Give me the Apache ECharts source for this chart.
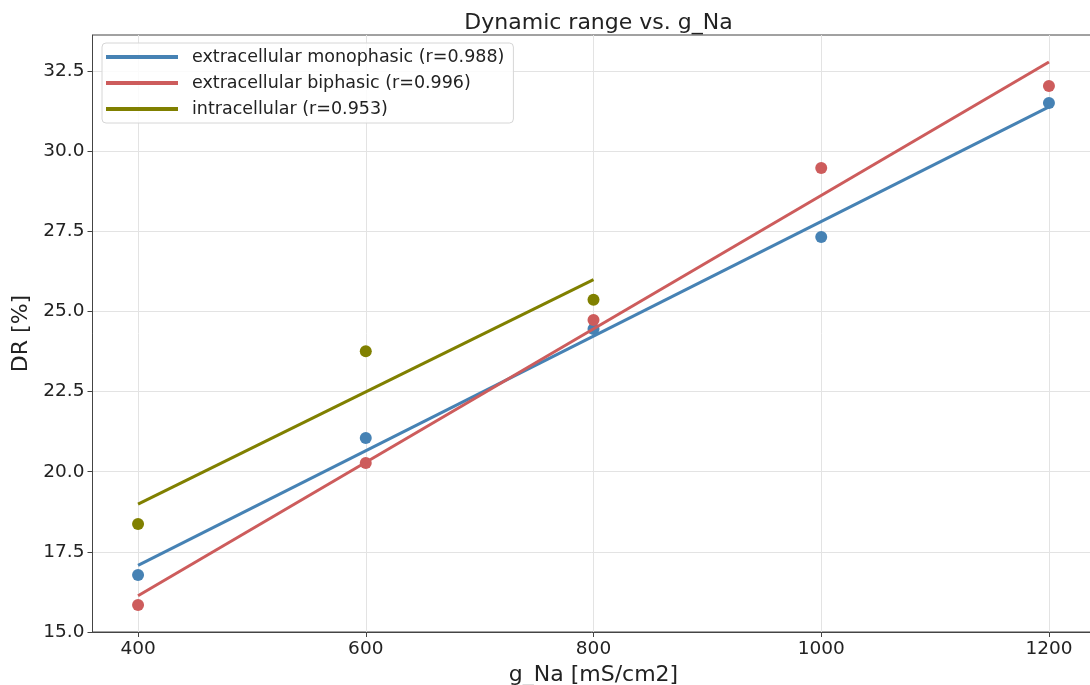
<!DOCTYPE html>
<html>
<head>
<meta charset="utf-8">
<script src="https://cdn.jsdelivr.net/npm/echarts@6/dist/echarts.min.js"></script>
<style>html,body{margin:0;padding:0;background:#fff;}#chart{width:1090px;height:685px;}</style>
</head>
<body>
<div id="chart"></div>
<script>
// Data
const gNa = [400, 600, 800, 1000, 1200];
const gNaIntra = [400, 600, 800];
const monoDR = [16.78, 21.05, 24.45, 27.32, 31.50];
const biDR = [15.84, 20.27, 24.73, 29.47, 32.03];
const intraDR = [18.37, 23.76, 25.36];
// fitted line endpoints
const monoFitX = [400, 1200];
const monoFitY = [17.08, 31.38];
const biFitX = [400, 1200];
const biFitY = [16.13, 32.78];
const intraFitX = [400, 800];
const intraFitY = [18.99, 25.99];
const seriesNames = [
  'extracellular monophasic (r=0.988)',
  'extracellular biphasic (r=0.996)',
  'intracellular (r=0.953)'
];
const xTicks = [400, 600, 800, 1000, 1200];
const yTicks = [15.0, 17.5, 20.0, 22.5, 25.0, 27.5, 30.0, 32.5];

const colors = ['#4682b4', '#cd5c5c', '#808000'];
const zip = (xs, ys) => xs.map((x, i) => [x, ys[i]]);
const font = 'DejaVu Sans';

const chart = echarts.init(document.getElementById('chart'), null, {renderer: 'canvas'});
const scatter = (data, c) => ({
  type: 'scatter', data, symbolSize: 12, silent: true,
  itemStyle: {color: c, opacity: 1}, z: 2
});
const line = (name, data, c) => ({
  type: 'line', name, data, symbol: 'none', silent: true,
  lineStyle: {color: c, width: 3}, itemStyle: {color: c}, z: 3
});

chart.setOption({
  animation: false,
  backgroundColor: '#ffffff',
  title: {
    text: 'Dynamic range vs. g_Na', left: 593.5, top: 7, textAlign: 'center',
    textStyle: {fontFamily: font, fontSize: 22, fontWeight: 'normal', color: '#222'}
  },
  grid: {
    left: 92.5, right: -4.5, top: 35, bottom: 53,
    outerBoundsMode: 'none', containLabel: false,
    show: true, borderColor: '#444', borderWidth: 1, backgroundColor: 'transparent'
  },
  legend: {
    orient: 'vertical', left: 102, top: 43,
    padding: [5, 9, 5, 4], itemGap: 8,
    itemWidth: 72, itemHeight: 4, icon: 'rect',
    backgroundColor: 'rgba(255,255,255,0.85)', borderColor: '#d6d6d6', borderWidth: 1, borderRadius: 4,
    textStyle: {fontFamily: font, fontSize: 17.5, color: '#222', padding: [0, 0, 0, 9]},
    data: seriesNames
  },
  xAxis: {
    type: 'value', min: 360, max: 1240,
    name: 'g_Na [mS/cm2]', nameLocation: 'middle', nameGap: 30,
    nameTextStyle: {fontFamily: font, fontSize: 22, color: '#222'},
    axisLine: {show: true, lineStyle: {color: '#444', width: 1}},
    axisTick: {show: true, length: 5, lineStyle: {color: '#444'}, customValues: xTicks},
    axisLabel: {fontFamily: font, fontSize: 18.5, color: '#222', margin: 8, customValues: xTicks,
      formatter: v => String(v)},
    splitLine: {show: true, lineStyle: {color: '#e3e3e3', width: 1}}
  },
  yAxis: {
    type: 'value', min: 15, max: 33.62,
    name: 'DR [%]', nameLocation: 'middle', nameGap: 56, nameRotate: 90,
    nameTextStyle: {fontFamily: font, fontSize: 22, color: '#222'},
    axisLine: {show: true, lineStyle: {color: '#444', width: 1}},
    axisTick: {show: true, length: 5, lineStyle: {color: '#444'}, customValues: yTicks},
    axisLabel: {fontFamily: font, fontSize: 18.5, color: '#222', margin: 8, customValues: yTicks,
      formatter: v => Number(v).toFixed(1)},
    splitLine: {show: true, lineStyle: {color: '#e3e3e3', width: 1}}
  },
  series: [
    scatter(zip(gNa, monoDR), colors[0]),
    line(seriesNames[0], zip(monoFitX, monoFitY), colors[0]),
    scatter(zip(gNa, biDR), colors[1]),
    line(seriesNames[1], zip(biFitX, biFitY), colors[1]),
    scatter(zip(gNaIntra, intraDR), colors[2]),
    line(seriesNames[2], zip(intraFitX, intraFitY), colors[2])
  ]
});
</script>
</body>
</html>
